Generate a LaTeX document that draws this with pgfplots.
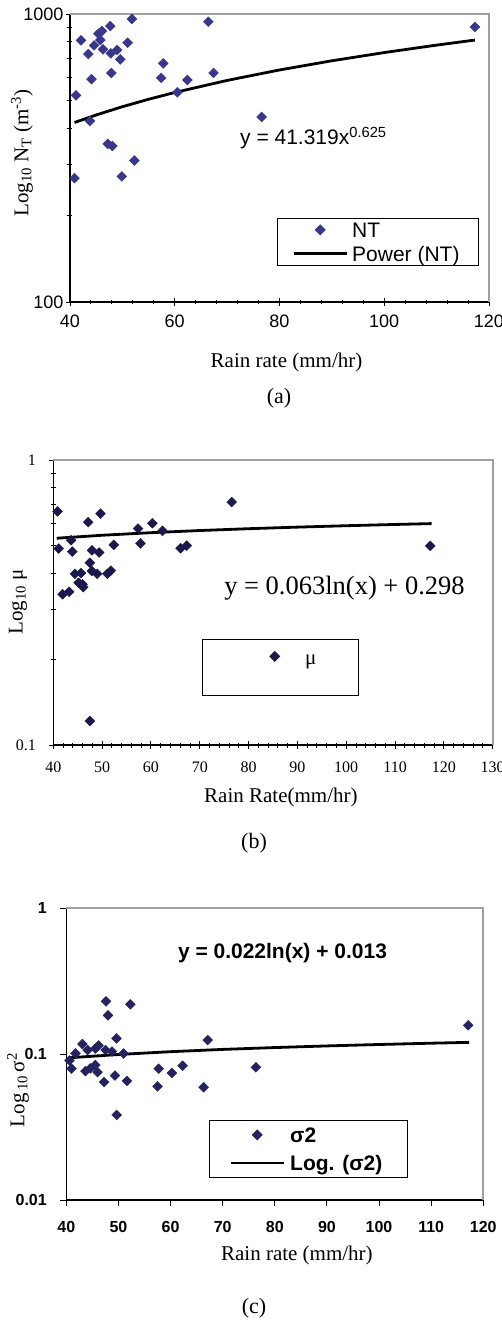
\documentclass[border=0pt]{standalone}
\usepackage{fontspec}
\setmainfont{Liberation Serif}
\newfontfamily\arialf{Liberation Sans}
\usepackage{pgfplots}
\pgfplotsset{compat=1.18}
\definecolor{navyA}{RGB}{55,55,140}
\definecolor{navyB}{RGB}{25,25,75}
\definecolor{navyC}{RGB}{35,35,95}
\definecolor{bordergray}{RGB}{160,160,160}
\pgfplotsset{
 rstyle/.style={
   scale only axis, clip=false,
   axis lines*=left,
   axis line style={line width=1.2pt, black},
   tick style={black, line width=0.9pt},
   major tick length=8pt, minor tick length=5pt,
   tick align=center,
   /pgf/number format/assume math mode=true,
   legend cell align=left,
   legend image code/.code={\draw[mark repeat=2,mark phase=2,##1] plot coordinates {(0pt,0pt)(26.5pt,0pt)(53pt,0pt)};},
 },
 dmark/.style={only marks, mark=square*, mark size=3.5pt, mark options={rotate=45, fill=#1, draw=#1}},
}
\begin{document}
\begin{tikzpicture}
% ---------------- (a)
\begin{axis}[rstyle,
 at={(70pt,-302pt)}, anchor=south west,
 width=419pt, height=288pt,
 xmin=40, xmax=120, ymode=log, ymin=100, ymax=1000,
 xtick={40,60,...,120}, minor x tick num=4,
 ytick={100,1000}, yticklabels={100,1000},
 minor ytick={200,300,400,500,600,700,800,900},
 ticklabel style={font=\arialf\fontsize{18}{21}\selectfont},
 xticklabel style={yshift=-5pt},
 yticklabel style={xshift=1pt},
 xlabel={Rain rate (mm/hr)}, ylabel={Log\textsubscript{10} N\textsubscript{T} (m\textsuperscript{-3})},
 label style={font=\fontsize{21}{25}\selectfont},
 xlabel style={at={(axis description cs:0.5167,-0.2083)}, anchor=center},
 ylabel style={at={(axis description cs:-0.1146,0.517)}, anchor=center},
 legend style={at={(0.494,0.2917)}, anchor=north west, draw=black, line width=0.8pt,
   font=\arialf\fontsize{21}{25}\selectfont, inner xsep=15pt, inner ysep=2pt, row sep=5pt,
   nodes={inner xsep=4pt, inner ysep=0pt}},
]
\draw[bordergray, line width=1.8pt] (rel axis cs:0,1) -- (rel axis cs:1,1) -- (rel axis cs:1,0);
\addplot[dmark=navyA] coordinates {
(40.86,269) (41.15,522) (42.1,810) (43.5,726) (43.8,425) (44.1,594) (44.6,778) (45.4,854)
(46.1,873) (45.8,812) (46.3,754) (47.7,908) (47.8,730) (47.9,624) (49.0,750) (49.6,696)
(51.0,795) (47.2,354) (48.1,348) (49.9,273) (52.3,310) (51.8,961) (57.8,674) (57.4,600)
(60.5,535) (62.4,590) (66.4,940) (67.4,624) (76.6,439) (117.3,901)};
\addlegendentry{\strut NT}
\addplot[black, line width=2.8pt] coordinates {
(40.86,420.0) (45,446.1) (50,476.5) (55,505.7) (60,533.9) (70,588.0) (80,639.2) (90,688.0)
(100,734.7) (110,779.9) (117.3,811.9)};
\addlegendentry{\strut Power (NT)}
\node[font=\arialf\fontsize{21}{25}\selectfont] at (rel axis cs:0.581,0.569) {y = 41.319x\textsuperscript{0.625}};
\end{axis}
\node[font=\fontsize{22}{26}\selectfont] at (279pt,-398pt) {(a)};
% ---------------- (b)
\begin{axis}[rstyle,
 at={(53.3pt,-745pt)}, anchor=south west,
 width=439.4pt, height=285pt,
 xmin=40, xmax=130, ymode=log, ymin=0.1, ymax=1,
 xtick={40,50,...,130}, minor x tick num=4,
 ytick={0.1,1}, yticklabels={0.1,1},
 minor ytick={0.2,0.3,0.4,0.5,0.6,0.7,0.8,0.9},
 ticklabel style={font=\fontsize{16}{19}\selectfont},
 xticklabel style={yshift=-9pt},
 yticklabel style={xshift=-10pt},
 xlabel={Rain Rate(mm/hr)}, ylabel={Log\textsubscript{10} μ},
 label style={font=\fontsize{21}{25}\selectfont},
 xlabel style={at={(axis description cs:0.518,-0.1825)}, anchor=center},
 ylabel style={at={(axis description cs:-0.0803,0.5018)}, anchor=center},
 legend image code/.code={\path (0pt,0pt) (60pt,0pt); \draw[#1] plot coordinates {(36pt,0pt)};},
 legend style={at={(0.3384,0.3719)}, anchor=north west, draw=black, line width=0.8pt,
   font=\fontsize{21}{25}\selectfont, inner xsep=36pt, inner ysep=7.5pt, row sep=3pt,
   nodes={inner xsep=6pt, inner ysep=0pt}},
]
\draw[bordergray, line width=1.8pt] (rel axis cs:0,1) -- (rel axis cs:1,1) -- (rel axis cs:1,0);
\addplot[dmark=navyB] coordinates {
(40.86,0.660) (41.1,0.489) (41.9,0.338) (43.26,0.345) (43.67,0.523) (43.9,0.477) (44.44,0.399)
(45.67,0.401) (45.2,0.371) (45.98,0.366) (46.15,0.358) (47.15,0.605) (47.5,0.436) (47.93,0.482)
(47.89,0.408) (47.5,0.1214) (49.0,0.399) (49.38,0.4736) (49.67,0.648) (51.06,0.399) (51.78,0.409)
(52.39,0.504) (57.35,0.575) (57.86,0.510) (60.28,0.600) (62.37,0.564) (66.08,0.490) (67.33,0.501)
(76.54,0.712) (117.2,0.500)};
\addlegendentry{\strut μ}
\addplot[black, line width=2.8pt, forget plot] coordinates {
(40.7,0.5315) (50,0.5445) (60,0.5559) (70,0.5657) (80,0.5741) (90,0.5815) (100,0.5881)
(110,0.5941) (117.5,0.5983)};
\addlegendimage{empty legend}
\addlegendentry{\strut}
\node[font=\fontsize{26.5}{31}\selectfont] at (rel axis cs:0.6627,0.5509) {y = 0.063ln(x) + 0.298};
\end{axis}
\node[font=\fontsize{22}{26}\selectfont] at (254pt,-843pt) {(b)};
% ---------------- (c)
\begin{axis}[rstyle,
 at={(66.3pt,-1200pt)}, anchor=south west,
 width=417pt, height=291.7pt,
 xmin=40, xmax=120, ymode=log, ymin=0.01, ymax=1,
 xtick={40,50,...,120},
 ytick={0.01,0.1,1}, yticklabels={0.01,0.1,1},
 minor y tick style={draw=none}, minor x tick style={draw=none},
 tick align=outside, major tick length=6pt,
 ticklabel style={font=\arialf\bfseries\fontsize{16}{19}\selectfont},
 xticklabel style={yshift=-12pt},
 yticklabel style={xshift=-10pt},
 xlabel={Rain rate (mm/hr)}, ylabel={Log\textsubscript{\,10}\,σ\textsuperscript{2}},
 label style={font=\fontsize{21}{25}\selectfont},
 xlabel style={at={(axis description cs:0.553,-0.1886)}, anchor=center},
 ylabel style={at={(axis description cs:-0.1158,0.377)}, anchor=center},
 legend style={at={(0.3422,0.2743)}, anchor=north west, draw=black, line width=0.8pt,
   font=\arialf\bfseries\fontsize{21}{25}\selectfont, inner xsep=20pt, inner ysep=5pt, row sep=9pt,
   nodes={inner xsep=5pt, inner ysep=0pt}},
]
\draw[bordergray, line width=1.8pt] (rel axis cs:0,1) -- (rel axis cs:1,1) -- (rel axis cs:1,0);
\addplot[dmark=navyC] coordinates {
(40.61,0.0905) (40.99,0.0797) (41.76,0.1013) (43.1,0.1174) (43.68,0.0766) (44.1,0.1068)
(44.6,0.080) (45.56,0.0843) (45.56,0.1093) (45.99,0.0754) (46.18,0.1147) (47.24,0.0644)
(47.52,0.1068) (47.62,0.2304) (48.0,0.1847) (48.77,0.1043) (49.34,0.0714) (49.63,0.1284)
(49.67,0.0383) (51.0,0.101) (51.64,0.0655) (52.28,0.2197) (57.5,0.0602) (57.73,0.0795)
(60.27,0.0743) (62.33,0.0833) (66.36,0.0593) (67.13,0.125) (76.39,0.0813) (117.1,0.1577)};
\addlegendentry{\strut σ2}
\addplot[black, line width=2.8pt] coordinates {
(40.8,0.0946) (50,0.0995) (60,0.1040) (70,0.1078) (80,0.1110) (90,0.1139) (100,0.1165)
(110,0.1189) (117.3,0.1205)};
\addlegendentry{\strut Log. (σ2)}
\node[font=\arialf\bfseries\fontsize{21}{25}\selectfont] at (rel axis cs:0.5185,0.8468) {y = 0.022ln(x) + 0.013};
\end{axis}
\node[font=\fontsize{22}{26}\selectfont] at (254pt,-1308pt) {(c)};
\pgfresetboundingbox
\path[use as bounding box] (0pt,0pt) rectangle (502pt,-1320pt);
\end{tikzpicture}
\end{document}
